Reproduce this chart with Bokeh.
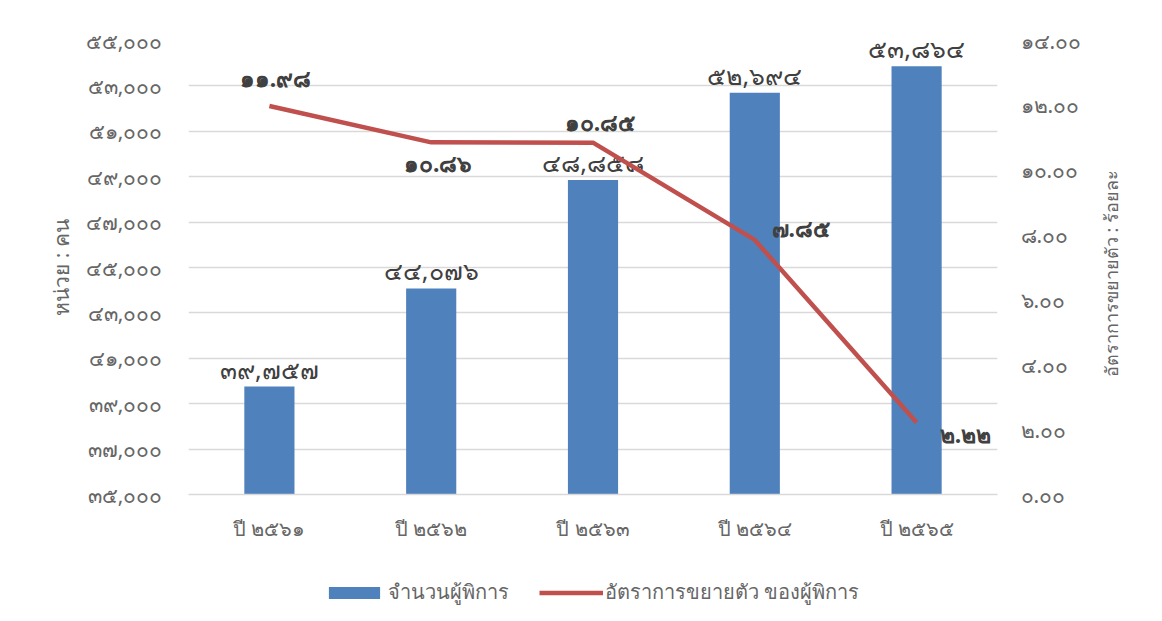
import math
from bokeh.plotting import figure
from bokeh.layouts import column
from bokeh.models import (Range1d, LinearAxis, FixedTicker, CustomJSTickFormatter,
                          ColumnDataSource, Legend, LegendItem, FactorRange)
from bokeh.core.properties import value
from bokeh.embed import file_html
from bokeh.resources import INLINE

# ---- data ----
categories = ["ปี ๒๕๖๑", "ปี ๒๕๖๒", "ปี ๒๕๖๓", "ปี ๒๕๖๔", "ปี ๒๕๖๕"]
disabled_count = [39757, 44076, 48858, 52694, 53864]
growth_rate = [11.98, 10.86, 10.85, 7.85, 2.22]
left_ticks = [35000, 37000, 39000, 41000, 43000, 45000, 47000, 49000, 51000, 53000, 55000]
right_ticks = [0, 2, 4, 6, 8, 10, 12, 14]
series_names = ["จำนวนผู้พิการ", "อัตราการขยายตัว ของผู้พิการ"]
left_title = "หน่วย : คน"
right_title = "อัตราการขยายตัว : ร้อยละ"

# label placement (screen px offsets) for growth labels
rate_dx = [6, 7, 7, 46, 49]
rate_dy = [-28, 21, -21, -12, 11]
RIGHT_TITLE_START = 3.62   # right-axis units where the rotated title begins

TH = str.maketrans("0123456789", "๐๑๒๓๔๕๖๗๘๙")
def thai(s):
    return s.translate(TH)

FONT = "Noto Sans"
GRID = "#d9d9d9"
TXT = "#666666"
BLUE = "#4F81BD"
RED = "#C0504D"

p = figure(width=1154, height=560, x_range=FactorRange(*categories, range_padding=0),
           y_range=Range1d(35000, 55000), output_backend="svg", toolbar_location=None,
           min_border_left=188, min_border_right=157, min_border_top=40, min_border_bottom=66)
p.outline_line_color = None
p.extra_y_ranges = {"right": Range1d(0, 14)}

# grid
p.xgrid.grid_line_color = None
p.ygrid.grid_line_color = GRID
p.ygrid.grid_line_width = 1.5
p.yaxis.ticker = FixedTicker(ticks=left_ticks)

# bars
bar_src = ColumnDataSource(dict(x=categories, top=disabled_count,
                                lbl=[thai(f"{v:,}") for v in disabled_count]))
p.vbar(x="x", top="top", bottom=35000, width=0.31, source=bar_src,
       fill_color=BLUE, line_color=None)
p.text(x="x", y="top", text="lbl", source=bar_src, text_align="center",
       text_baseline="bottom", y_offset=-1, text_font=value(FONT),
       text_font_size="25px", text_color="#404040")

# line
line_src = ColumnDataSource(dict(x=categories, y=growth_rate,
                                 lbl=[thai(f"{v:.2f}") for v in growth_rate],
                                 dx=rate_dx, dy=rate_dy))
p.line(x="x", y="y", source=line_src, y_range_name="right",
       line_color=RED, line_width=4.5)
p.text(x="x", y="y", text="lbl", source=line_src, y_range_name="right",
       x_offset="dx", y_offset="dy", text_align="center", text_baseline="middle",
       text_font=value(FONT), text_font_style="bold", text_font_size="23px",
       text_color="#404040")

# axes
fmt_left = CustomJSTickFormatter(code="""
const d='๐๑๒๓๔๕๖๗๘๙';
return tick.toLocaleString('en-US').replace(/[0-9]/g, c => d[+c]);
""")
fmt_right = CustomJSTickFormatter(code="""
const d='๐๑๒๓๔๕๖๗๘๙';
return tick.toFixed(2).replace(/[0-9]/g, c => d[+c]);
""")

ax_l = p.yaxis[0]
ax_l.formatter = fmt_left
ax_l.axis_label = left_title
ax_r = LinearAxis(y_range_name="right", ticker=FixedTicker(ticks=right_ticks),
                  formatter=fmt_right)
p.add_layout(ax_r, "right")

# right-axis title: a label-only axis so the text reads bottom-to-top
ax_t = LinearAxis(y_range_name="right", ticker=FixedTicker(ticks=[RIGHT_TITLE_START]),
                  major_label_overrides={RIGHT_TITLE_START: right_title},
                  major_label_orientation=math.pi / 2)
p.add_layout(ax_t, "right")

for ax in [ax_l, ax_r, ax_t]:
    ax.axis_line_color = None
    ax.major_tick_line_color = None
    ax.minor_tick_line_color = None
    ax.major_label_text_font = FONT
    ax.major_label_text_font_size = "21px"
    ax.major_label_text_color = TXT
ax_t.major_label_text_font_size = "18px"
ax_t.major_label_standoff = 21
ax_l.axis_label_text_font = FONT
ax_l.axis_label_text_color = TXT
ax_l.axis_label_text_font_style = "normal"
ax_l.axis_label_standoff = 8
ax_l.axis_label_text_font_size = "21px"
ax_l.major_label_standoff = 20
ax_r.major_label_standoff = 17

xa = p.xaxis[0]
xa.axis_line_color = GRID
xa.axis_line_width = 1.5
xa.major_tick_line_color = None
xa.minor_tick_line_color = None
xa.major_label_text_font = FONT
xa.major_label_text_font_size = "20px"
xa.major_label_text_color = TXT
xa.major_label_standoff = 14

# legend strip (separate figure so the legend is not clipped; its frame is
# aligned with the main frame, and its glyphs sit below its visible y range)
lf = figure(width=1154, height=53, x_range=p.x_range, y_range=Range1d(60000, 70000),
            output_backend="svg", toolbar_location=None, min_border=0,
            x_axis_location=None, y_axis_location=None)
lf.outline_line_color = None
lf.grid.visible = False
lb = lf.vbar(x="x", top="top", bottom=35000, width=0.31, source=bar_src,
             fill_color=BLUE, line_color=None)
ll = lf.line(x="x", y="y", source=line_src, line_color=RED, line_width=4.5)
legend = Legend(items=[LegendItem(label=series_names[0], renderers=[lb]),
                       LegendItem(label=series_names[1], renderers=[ll])],
                orientation="horizontal", location=(134, 5),
                glyph_width=64, glyph_height=15, spacing=30, label_standoff=2,
                label_text_font=FONT, label_text_font_size="20px", label_text_color=TXT,
                background_fill_alpha=0, border_line_color=None, padding=4, margin=0)
lf.add_layout(legend, "center")

layout = column(p, lf, spacing=0)
open("out.html", "w").write(file_html(layout, INLINE))
